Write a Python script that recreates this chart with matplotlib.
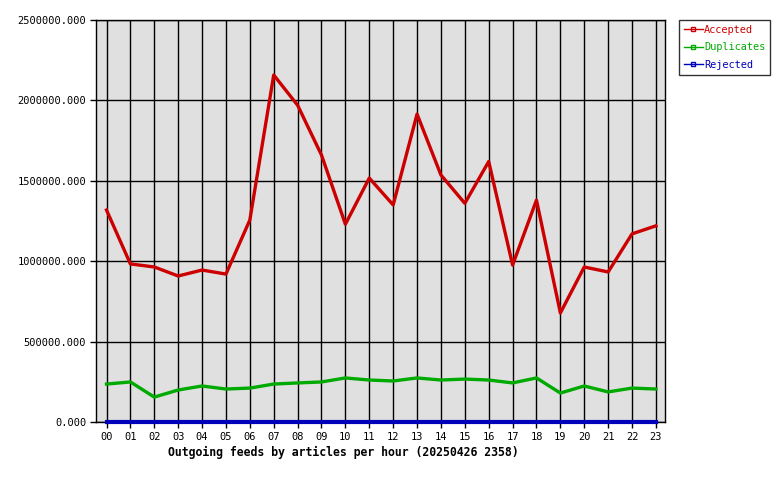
import matplotlib
matplotlib.use("Agg")
import matplotlib.pyplot as plt
import numpy as np

hours = ["00", "01", "02", "03", "04", "05", "06", "07", "08", "09", "10", "11",
         "12", "13", "14", "15", "16", "17", "18", "19", "20", "21", "22", "23"]
accepted = [1318000, 983000, 964000, 908000, 945000, 920000, 1256000, 2158000,
            1970000, 1660000, 1230000, 1517000, 1350000, 1915000, 1536000, 1360000,
            1620000, 976000, 1380000, 678000, 964000, 933000, 1170000, 1220000]
duplicates = [236000, 249000, 155000, 199000, 224000, 205000, 211000, 236000,
              243000, 249000, 274000, 261000, 255000, 274000, 261000, 267000,
              261000, 243000, 274000, 180000, 224000, 187000, 211000, 205000]
rejected = [0] * 24

plt.rcParams['font.family'] = ['DejaVu Sans Mono']

fig = plt.figure(figsize=(7.8, 4.8), dpi=100)
ax = fig.add_axes([96 / 780, 58 / 480, 569 / 780, 402 / 480])
ax.set_facecolor('#e0e0e0')

x = np.arange(len(hours))
ax.plot(x, accepted, color='#cc0000', lw=2.4, label='Accepted')
ax.plot(x, duplicates, color='#00aa00', lw=2.4, label='Duplicates')
ax.plot(x, rejected, color='#0000bb', lw=3.0, label='Rejected', clip_on=False, zorder=5)

ax.set_xlim(-0.44, 23.38)
ax.set_ylim(0, 2500000)
ax.set_xticks(x)
ax.set_xticklabels(hours, fontsize=7.5)
ax.set_yticks(np.arange(0, 2500001, 500000))
ax.set_yticklabels(["%.3f" % v for v in np.arange(0, 2500001, 500000)], fontsize=7.5)
ax.tick_params(length=4, width=1, color='black', pad=3)
ax.grid(True, color='black', lw=1)
ax.set_axisbelow(True)
for s in ax.spines.values():
    s.set_linewidth(1)
    s.set_color('black')

fig.text(343 / 780, 1 - 452 / 480, "Outgoing feeds by articles per hour (20250426 2358)",
         ha='center', va='center', fontsize=8.3, fontweight='bold')

# legend with small box markers on lines
handles = []
for c, lab in [('#cc0000', 'Accepted'), ('#00aa00', 'Duplicates'), ('#0000bb', 'Rejected')]:
    h, = ax.plot([], [], color=c, lw=1, marker='s', ms=2.5, mfc='none', mec=c, label=lab)
    handles.append(h)
leg = fig.legend(handles=handles, loc='upper left', bbox_to_anchor=(679 / 780, 1 - 20 / 480),
                 fontsize=7.4, frameon=True, fancybox=False, edgecolor='black',
                 handlelength=1.9, handletextpad=0.1, borderpad=0.45, labelspacing=0.75,
                 borderaxespad=0, markerscale=1, numpoints=1)
leg.get_frame().set_linewidth(1)
for t, h in zip(leg.get_texts(), handles):
    t.set_color(h.get_color())

fig.savefig('out.png', dpi=100)
